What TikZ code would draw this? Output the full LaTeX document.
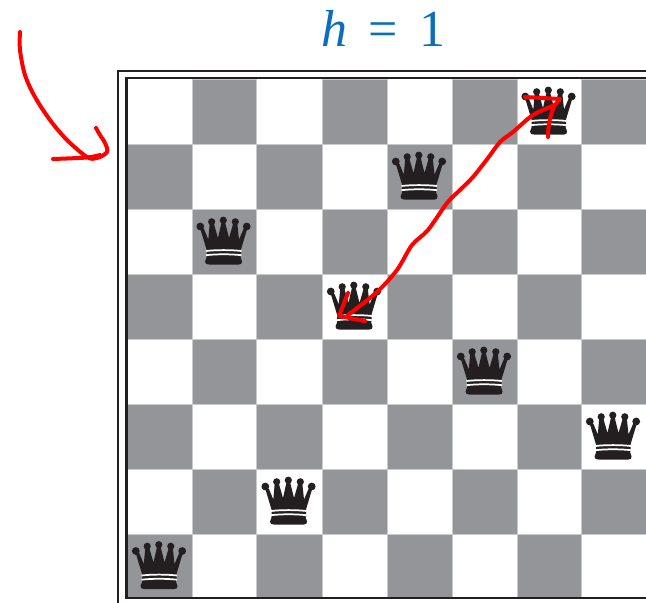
\documentclass[tikz,border=0pt]{standalone}
\usepackage{fontspec}
\setmainfont{Liberation Serif}
\definecolor{squaregray}{HTML}{939598}
\definecolor{squareedge}{HTML}{C9CACB}
\definecolor{boardline}{HTML}{231F20}
\definecolor{titleblue}{HTML}{0A6EBD}
\tikzset{
  ink/.style={draw=red,line width=3pt,line cap=round,line join=round},
  frameline/.style={draw=boardline,line width=2pt},
  darksquare/.style={fill=squaregray,draw=squareedge,line width=0.6pt},
  queen/.pic={
    \fill[boardline] (-23.7,-15) circle (3.9) (-12.3,-19.7) circle (3.6) (-0.7,-21.3) circle (3.6) (11.3,-19.7) circle (3.6) (22.7,-15) circle (3.9);
    \fill[boardline] (-23.5,-15) -- (-20,-12.5) -- (-15.7,-2) -- (-14.2,-19) -- (-10.5,-19) -- (-6,-3.5) -- (-2.3,-20) -- (0.9,-20) -- (5,-3.5) -- (9.5,-19) -- (13.2,-19) -- (15,-2) -- (19.5,-12.5) -- (23,-15) -- (23,-12) -- (17,8) -- (17,15) -- (-17.5,15) -- (-17.5,8) -- (-23.5,-12) -- cycle;
    \fill[boardline] (-17,14) .. controls (-17,16) and (-18.5,18) .. (-19,20) .. controls (-19.2,22.5) and (-17,23) .. (-15,23) -- (15,23) .. controls (17,23) and (18,22) .. (18,20) .. controls (17.5,18) and (16.5,16) .. (16,14) -- cycle;
    \draw[white,line width=1.3pt] (-18,9.5) .. controls (-8,8.3) and (7,8.3) .. (17.5,9.5);
    \draw[white,line width=1.3pt] (-18,13.7) .. controls (-8,12.5) and (7,12.5) .. (17.5,13.7);
  }
}
\begin{document}
\begin{tikzpicture}[x=0.75pt,y=-0.75pt]
\useasboundingbox (0,0) rectangle (646,603);
\fill[white] (0,0) rectangle (646,603);
% squares
\def\xa{{127,192,256,322,387,452,517,581,646}}
\def\ya{{79,144,209,274,339,404,469,534,598}}
\foreach \r in {0,...,7}{\foreach \c in {0,...,7}{
  \pgfmathtruncatemacro{\odd}{mod(\r+\c,2)}
  \pgfmathsetmacro{\xl}{\xa[\c]}\pgfmathsetmacro{\xr}{\xa[\c+1]}
  \pgfmathsetmacro{\yt}{\ya[\r]}\pgfmathsetmacro{\yb}{\ya[\r+1]}
  \ifnum\odd=1 \path[darksquare] (\xl,\yt) rectangle (\xr,\yb);\fi
}}
% frame
\draw[frameline] (118,603) -- (118,71) -- (646,71);
\draw[frameline] (646,78) -- (126.5,78) -- (126.5,598) -- (646,598);
% queens
\foreach \c/\r in {6/0,4/1,1/2,3/3,5/4,7/5,2/6,0/7}{
  \pgfmathsetmacro{\xl}{\xa[\c]}\pgfmathsetmacro{\xr}{\xa[\c+1]}
  \pgfmathsetmacro{\yt}{\ya[\r]}\pgfmathsetmacro{\yb}{\ya[\r+1]}
  \pgfmathsetmacro{\qx}{(\xl+\xr)/2}
  \pgfmathsetmacro{\qy}{(\yt+\yb)/2}
  \pic at (\qx,\qy) {queen};
}
% title
\node[text=titleblue,font=\fontsize{39}{44}\selectfont,inner sep=0pt] (title) at (383.5,28) {\textit{h}\hspace{0.4em}=\hspace{0.42em}1};
% hand-drawn arrow at the corner
\draw[ink] plot[smooth,tension=0.55] coordinates {(20,32) (20,50) (25,75) (35,97) (50,120) (67,140) (87,157) (97,158) (107,152) (105,143) (100,135) (96,128)};
\draw[ink] plot[smooth,tension=0.5] coordinates {(53,159) (87,157.5) (100,155)};
% hand-drawn line between the queens
\draw[ink] plot[smooth,tension=0.5] coordinates {(555,105) (533,115) (513,132) (500,142) (488,158) (473,177) (460,190) (447,203) (428,230) (412,245) (397,270) (377,292) (348,315)};
\draw[ink] (348,293) -- (339,316) -- (365,321);
\draw[ink] (525,97) -- (560,99) -- (555,105) .. controls (550,115) and (548,125) .. (548,137);
\end{tikzpicture}
\end{document}
